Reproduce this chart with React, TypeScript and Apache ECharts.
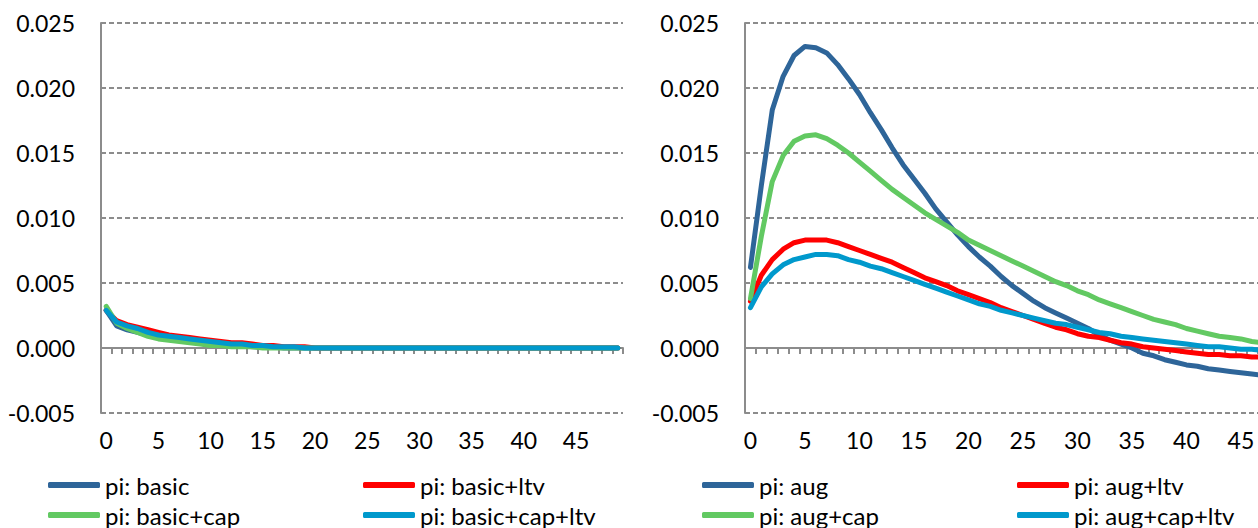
import React, { useEffect, useRef } from "react";
import * as echarts from "echarts";

// Horizons 0..49
const periods: string[] = Array.from({ length: 50 }, (_, i) => String(i));

const yTicks = { min: -0.005, max: 0.025, step: 0.005 };

// Left panel: basic model responses of inflation
const basic: number[] = [
  0.0029, 0.0017, 0.0014, 0.0012, 0.001, 0.0008, 0.0007, 0.0006, 0.0005, 0.0004,
  0.0003, 0.0003, 0.0002, 0.0002, 0.0001, 0.0001, 0.0001, 0.0, 0.0, 0.0,
  0.0, 0.0, 0.0, 0.0, 0.0, 0.0, 0.0, 0.0, 0.0, 0.0,
  0.0, 0.0, 0.0, 0.0, 0.0, 0.0, 0.0, 0.0, 0.0, 0.0,
  0.0, 0.0, 0.0, 0.0, 0.0, 0.0, 0.0, 0.0, 0.0, 0.0,
];
const basicLtv: number[] = [
  0.0029, 0.0021, 0.0018, 0.0016, 0.0014, 0.0012, 0.001, 0.0009, 0.0008, 0.0007,
  0.0006, 0.0005, 0.0004, 0.0004, 0.0003, 0.0002, 0.0002, 0.0001, 0.0001, 0.0001,
  0.0, 0.0, 0.0, 0.0, 0.0, 0.0, 0.0, 0.0, 0.0, 0.0,
  0.0, 0.0, 0.0, 0.0, 0.0, 0.0, 0.0, 0.0, 0.0, 0.0,
  0.0, 0.0, 0.0, 0.0, 0.0, 0.0, 0.0, 0.0, 0.0, 0.0,
];
const basicCap: number[] = [
  0.0032, 0.0019, 0.0015, 0.0012, 0.0009, 0.0007, 0.0006, 0.0005, 0.0004, 0.0003,
  0.0002, 0.0002, 0.0001, 0.0001, 0.0001, 0.0, 0.0, 0.0, 0.0, 0.0,
  0.0, 0.0, 0.0, 0.0, 0.0, 0.0, 0.0, 0.0, 0.0, 0.0,
  0.0, 0.0, 0.0, 0.0, 0.0, 0.0, 0.0, 0.0, 0.0, 0.0,
  0.0, 0.0, 0.0, 0.0, 0.0, 0.0, 0.0, 0.0, 0.0, 0.0,
];
const basicCapLtv: number[] = [
  0.0029, 0.002, 0.0017, 0.0015, 0.0012, 0.001, 0.0009, 0.0008, 0.0007, 0.0006,
  0.0005, 0.0004, 0.0003, 0.0003, 0.0002, 0.0002, 0.0001, 0.0001, 0.0001, 0.0,
  0.0, 0.0, 0.0, 0.0, 0.0, 0.0, 0.0, 0.0, 0.0, 0.0,
  0.0, 0.0, 0.0, 0.0, 0.0, 0.0, 0.0, 0.0, 0.0, 0.0,
  0.0, 0.0, 0.0, 0.0, 0.0, 0.0, 0.0, 0.0, 0.0, 0.0,
];

// Right panel: augmented model responses of inflation
const aug: number[] = [
  0.0062, 0.0125, 0.0183, 0.0209, 0.0225, 0.0232, 0.0231, 0.0227, 0.0218, 0.0207,
  0.0195, 0.0181, 0.0168, 0.0154, 0.0141, 0.013, 0.0119, 0.0107, 0.0097, 0.0087,
  0.0078, 0.007, 0.0063, 0.0055, 0.0048, 0.0042, 0.0036, 0.0031, 0.0027, 0.0023,
  0.0019, 0.0015, 0.001, 0.0006, 0.0003, 0.0, -0.0004, -0.0006, -0.0009, -0.0011,
  -0.0013, -0.0014, -0.0016, -0.0017, -0.0018, -0.0019, -0.002, -0.0021, -0.0022, -0.0022,
];
const augLtv: number[] = [
  0.0036, 0.0056, 0.0068, 0.0076, 0.0081, 0.0083, 0.0083, 0.0083, 0.0081, 0.0078,
  0.0075, 0.0072, 0.0069, 0.0066, 0.0062, 0.0058, 0.0054, 0.0051, 0.0048, 0.0044,
  0.0041, 0.0038, 0.0035, 0.0031, 0.0028, 0.0025, 0.0022, 0.0019, 0.0016, 0.0014,
  0.0011, 0.0009, 0.0008, 0.0006, 0.0004, 0.0003, 0.0001, 0.0, -0.0001, -0.0002,
  -0.0003, -0.0004, -0.0005, -0.0005, -0.0006, -0.0006, -0.0007, -0.0007, -0.0008, -0.0008,
];
const augCap: number[] = [
  0.0038, 0.0086, 0.0128, 0.0148, 0.0159, 0.0163, 0.0164, 0.0161, 0.0156, 0.015,
  0.0143, 0.0136, 0.0129, 0.0122, 0.0116, 0.011, 0.0104, 0.0099, 0.0094, 0.0089,
  0.0083, 0.0079, 0.0075, 0.0071, 0.0067, 0.0063, 0.0059, 0.0055, 0.0051, 0.0048,
  0.0044, 0.0041, 0.0037, 0.0034, 0.0031, 0.0028, 0.0025, 0.0022, 0.002, 0.0018,
  0.0015, 0.0013, 0.0011, 0.0009, 0.0008, 0.0007, 0.0005, 0.0004, 0.0003, 0.0002,
];
const augCapLtv: number[] = [
  0.0031, 0.0047, 0.0057, 0.0064, 0.0068, 0.007, 0.0072, 0.0072, 0.0071, 0.0068,
  0.0066, 0.0063, 0.0061, 0.0058, 0.0055, 0.0052, 0.0049, 0.0046, 0.0043, 0.004,
  0.0037, 0.0034, 0.0032, 0.0029, 0.0027, 0.0025, 0.0023, 0.0021, 0.0019, 0.0018,
  0.0016, 0.0014, 0.0012, 0.0011, 0.0009, 0.0008, 0.0007, 0.0006, 0.0005, 0.0004,
  0.0003, 0.0002, 0.0001, 0.0001, 0.0, -0.0001, -0.0001, -0.0002, -0.0002, -0.0002,
];

const leftNames = ["pi: basic", "pi: basic+ltv", "pi: basic+cap", "pi: basic+cap+ltv"];
const rightNames = ["pi: aug", "pi: aug+ltv", "pi: aug+cap", "pi: aug+cap+ltv"];
const colors = ["#2E6599", "#FF0000", "#62C962", "#0099CC"];

const FONT = "Lato";
const AXIS_GREY = "#8C8C8C";

export default function App() {
  const ref = useRef<HTMLDivElement>(null);

  useEffect(() => {
    if (!ref.current) return;
    const chart = echarts.init(ref.current, undefined, { renderer: "svg" });

    const grids = [
      { left: 101, top: 23, width: 522, height: 390 },
      { left: 745, top: 23, width: 545, height: 390 },
    ];

    const xAxis = grids.map((_, gi) => ({
      type: "category" as const,
      gridIndex: gi,
      data: periods,
      boundaryGap: true,
      axisLine: { onZero: true, lineStyle: { color: AXIS_GREY, width: 2 } },
      axisTick: { show: true, interval: 0, length: 6, lineStyle: { color: AXIS_GREY, width: 2 } },
      axisLabel: {
        interval: 4,
        margin: 15,
        color: "#000",
        fontFamily: FONT,
        fontSize: 23,
      },
      splitLine: { show: false },
    }));

    const yAxis = grids.map((_, gi) => ({
      type: "value" as const,
      gridIndex: gi,
      min: yTicks.min,
      max: yTicks.max,
      interval: yTicks.step,
      axisLine: { show: true, lineStyle: { color: AXIS_GREY, width: 2 } },
      axisTick: { show: false },
      axisLabel: {
        margin: 26,
        color: "#000",
        fontFamily: FONT,
        fontSize: 23,
        formatter: (v: number) => v.toFixed(3),
      },
      splitLine: { show: true, lineStyle: { color: AXIS_GREY, width: 2, type: [5, 3] } },
    }));

    const mk = (name: string, data: number[], color: string, gi: number) => ({
      name,
      type: "line" as const,
      xAxisIndex: gi,
      yAxisIndex: gi,
      data,
      symbol: "none",
      color,
      lineStyle: { color, width: 5, cap: "round", join: "round" },
    });

    const leftData = [basic, basicLtv, basicCap, basicCapLtv];
    const rightData = [aug, augLtv, augCap, augCapLtv];

    const series = [
      ...leftNames.map((n, i) => mk(n, leftData[i], colors[i], 0)),
      ...rightNames.map((n, i) => mk(n, rightData[i], colors[i], 1)),
    ];

    // one legend entry per slot: two columns under each panel
    const slots = [
      { x: 48, y: 473 },
      { x: 363, y: 473 },
      { x: 48, y: 503 },
      { x: 363, y: 503 },
    ];
    const legendFor = (names: string[], dx: number) =>
      names.map((n, i) => ({
        data: [n],
        left: slots[i].x + dx,
        top: slots[i].y,
        icon: "roundRect",
        itemWidth: 52,
        itemHeight: 6,
        itemGap: 0,
        padding: 0,
        textStyle: { color: "#000", fontFamily: FONT, fontSize: 24, padding: [0, 0, 0, 0] },
      }));

    chart.setOption({
      animation: false,
      backgroundColor: "#fff",
      grid: grids,
      xAxis,
      yAxis,
      legend: [...legendFor(leftNames, 0), ...legendFor(rightNames, 654)],
      series,
    });

    return () => chart.dispose();
  }, []);

  return (
    <div
      style={{
        position: "fixed",
        left: 0,
        top: 0,
        width: 1258,
        height: 528,
        overflow: "hidden",
        background: "#fff",
      }}
    >
      <div ref={ref} style={{ width: 1310, height: 528 }} />
    </div>
  );
}
